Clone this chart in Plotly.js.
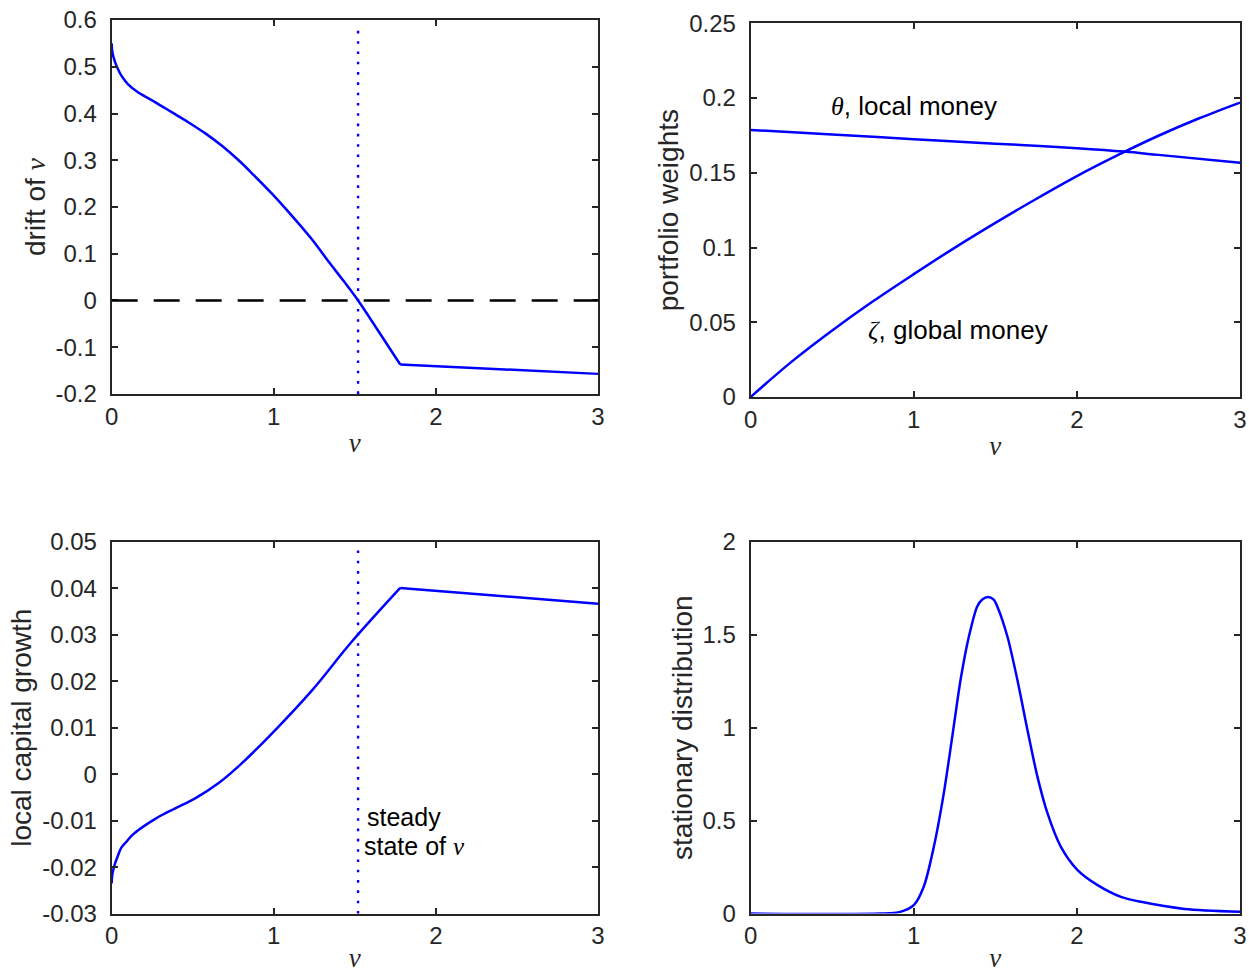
<!DOCTYPE html>
<html>
<head>
<meta charset="utf-8">
<script src="https://cdn.plot.ly/plotly-3.0.1.min.js"></script>
<style>html,body{margin:0;padding:0;background:#fff;}#chart{width:1249px;height:973px;}</style>
</head>
<body>
<div id="chart"></div>
<script>
// ---- data ----
const steadyState = 1.52;
const kinkX = 1.78;

const driftX = [0, 0.005, 0.02, 0.035, 0.06, 0.1, 0.16, 0.27, 0.37, 0.47, 0.58, 0.68, 0.78, 0.88, 0.99, 1.1, 1.23, 1.345, 1.43, 1.52, 1.65, 1.78, 2.27, 3.0];
const driftY = [0.55, 0.53, 0.511, 0.498, 0.481, 0.463, 0.446, 0.424, 0.403, 0.382, 0.357, 0.331, 0.301, 0.267, 0.228, 0.186, 0.133, 0.08, 0.042, 0.0, -0.068, -0.137, -0.145, -0.157];

const thetaX = [0, 0.5, 1, 1.5, 1.8, 2, 2.29, 2.5, 3];
const thetaY = [0.1787, 0.1756, 0.1725, 0.1695, 0.1678, 0.1665, 0.1642, 0.1620, 0.1567];

const zetaX = [0, 0.25, 0.5, 0.75, 1, 1.25, 1.5, 1.75, 2, 2.25, 2.5, 2.75, 3];
const zetaY = [0, 0.0235, 0.0445, 0.064, 0.0822, 0.0998, 0.1165, 0.1325, 0.1478, 0.1618, 0.1748, 0.1865, 0.197];

const growthX = [0, 0.005, 0.022, 0.035, 0.058, 0.09, 0.13, 0.274, 0.395, 0.515, 0.66, 0.804, 1.009, 1.237, 1.478, 1.78, 3.0];
const growthY = [-0.0235, -0.0214, -0.0191, -0.0179, -0.0159, -0.0146, -0.013, -0.0095, -0.0073, -0.0052, -0.0019, 0.0024, 0.0095, 0.0181, 0.0284, 0.0401, 0.0367];

const distX = [0, 0.795, 0.918, 1.0, 1.061, 1.123, 1.184, 1.236, 1.287, 1.338, 1.389, 1.42, 1.455, 1.49, 1.512, 1.574, 1.635, 1.697, 1.758, 1.82, 1.902, 2.004, 2.127, 2.27, 2.393, 2.66, 3.0];
const distY = [0, 0, 0.009, 0.045, 0.144, 0.359, 0.647, 0.952, 1.258, 1.491, 1.653, 1.69, 1.704, 1.69, 1.653, 1.491, 1.258, 0.988, 0.737, 0.539, 0.359, 0.234, 0.153, 0.090, 0.063, 0.025, 0.01];

// tick labels
const xTickVals = [0, 1, 2, 3];
const xTickText = ['0', '1', '2', '3'];
const driftTickVals = [-0.2, -0.1, 0, 0.1, 0.2, 0.3, 0.4, 0.5, 0.6];
const driftTickText = ['-0.2', '-0.1', '0', '0.1', '0.2', '0.3', '0.4', '0.5', '0.6'];
const weightTickVals = [0, 0.05, 0.1, 0.15, 0.2, 0.25];
const weightTickText = ['0', '0.05', '0.1', '0.15', '0.2', '0.25'];
const growthTickVals = [-0.03, -0.02, -0.01, 0, 0.01, 0.02, 0.03, 0.04, 0.05];
const growthTickText = ['-0.03', '-0.02', '-0.01', '0', '0.01', '0.02', '0.03', '0.04', '0.05'];
const distTickVals = [0, 0.5, 1, 1.5, 2];
const distTickText = ['0', '0.5', '1', '1.5', '2'];

// ---- styling ----
const BLUE = '#0000ff';
const AX = '#262626';
const SANS = 'Liberation Sans, Arial, Helvetica, sans-serif';
const SERIF = 'Liberation Serif';
const nu = '<i style="font-family:' + SERIF + '">ν</i>';

function xax(domain, anchor) {
  return {
    domain: domain, anchor: anchor, range: [0, 3],
    tickvals: xTickVals, ticktext: xTickText,
    ticks: 'inside', ticklen: 6, tickwidth: 2, tickcolor: AX,
    showline: true, linecolor: AX, linewidth: 2, mirror: 'ticks',
    showgrid: false, zeroline: false,
    tickfont: {family: SANS, size: 24, color: AX},
    ticklabelstandoff: 0,
    title: {text: nu, font: {family: SERIF, size: 27, color: AX}, standoff: 4}
  };
}
function yax(domain, anchor, range, tv, tt, title) {
  return {
    domain: domain, anchor: anchor, range: range,
    tickvals: tv, ticktext: tt,
    ticks: 'inside', ticklen: 6, tickwidth: 2, tickcolor: AX,
    showline: true, linecolor: AX, linewidth: 2, mirror: 'ticks',
    showgrid: false, zeroline: false,
    tickfont: {family: SANS, size: 24, color: AX},
    ticklabelstandoff: 8,
    title: {text: title, font: {family: SANS, size: 28, color: AX}, standoff: 2}
  };
}

// split curves at the kink so the smooth part can be splined
function upTo(xs, ys, lim) { const i = xs.indexOf(lim); return [xs.slice(0, i + 1), ys.slice(0, i + 1)]; }
function from(xs, ys, lim) { const i = xs.indexOf(lim); return [xs.slice(i), ys.slice(i)]; }
const [dA_x, dA_y] = upTo(driftX, driftY, kinkX);
const [dB_x, dB_y] = from(driftX, driftY, kinkX);
const [gA_x, gA_y] = upTo(growthX, growthY, kinkX);
const [gB_x, gB_y] = from(growthX, growthY, kinkX);

const xL = [0.0894, 0.4788];
const xR = [0.601, 0.9928];
const LW = 2.5;

const traces = [
  {x: dA_x, y: dA_y, xaxis: 'x', yaxis: 'y', type: 'scatter', mode: 'lines', line: {color: BLUE, width: LW, shape: 'spline', smoothing: 1}},
  {x: dB_x, y: dB_y, xaxis: 'x', yaxis: 'y', type: 'scatter', mode: 'lines', line: {color: BLUE, width: LW}},
  {x: thetaX, y: thetaY, xaxis: 'x2', yaxis: 'y2', type: 'scatter', mode: 'lines', line: {color: BLUE, width: LW, shape: 'spline'}},
  {x: zetaX, y: zetaY, xaxis: 'x2', yaxis: 'y2', type: 'scatter', mode: 'lines', line: {color: BLUE, width: LW, shape: 'spline'}},
  {x: gA_x, y: gA_y, xaxis: 'x3', yaxis: 'y3', type: 'scatter', mode: 'lines', line: {color: BLUE, width: LW, shape: 'spline', smoothing: 1}},
  {x: gB_x, y: gB_y, xaxis: 'x3', yaxis: 'y3', type: 'scatter', mode: 'lines', line: {color: BLUE, width: LW}},
  {x: distX, y: distY, xaxis: 'x4', yaxis: 'y4', type: 'scatter', mode: 'lines', line: {color: BLUE, width: LW, shape: 'spline', smoothing: 0.8}}
];

const layout = {
  width: 1249, height: 973,
  margin: {l: 0, r: 0, t: 0, b: 0},
  paper_bgcolor: '#ffffff', plot_bgcolor: '#ffffff',
  showlegend: false,
  font: {family: SANS, color: AX},
  xaxis: xax(xL, 'y'),
  yaxis: yax([0.5951, 0.9794], 'x', [-0.2, 0.6], driftTickVals, driftTickText, 'drift of ' + nu),
  xaxis2: xax(xR, 'y2'),
  yaxis2: yax([0.592, 0.976], 'x2', [0, 0.25], weightTickVals, weightTickText, 'portfolio weights'),
  xaxis3: xax(xL, 'y3'),
  yaxis3: yax([0.0611, 0.443], 'x3', [-0.03, 0.05], growthTickVals, growthTickText, 'local capital growth'),
  xaxis4: xax(xR, 'y4'),
  yaxis4: yax([0.0611, 0.443], 'x4', [0, 2], distTickVals, distTickText, 'stationary distribution'),
  shapes: [
    {type: 'line', xref: 'x domain', yref: 'y', x0: 0, x1: 1, y0: 0, y1: 0, line: {color: '#000000', width: 2.4, dash: '26px,16px'}},
    {type: 'line', xref: 'x', yref: 'y domain', x0: steadyState, x1: steadyState, y0: 0, y1: 0.98, line: {color: BLUE, width: 2.4, dash: '2.6px,7.7px'}},
    {type: 'line', xref: 'x3', yref: 'y3 domain', x0: steadyState, x1: steadyState, y0: 0, y1: 0.98, line: {color: BLUE, width: 2.4, dash: '2.6px,7.7px'}}
  ],
  annotations: [
    {xref: 'x2', yref: 'y2', x: 0.48, y: 0.1947, xanchor: 'left', yanchor: 'middle', showarrow: false,
     text: '<i style="font-family:' + SERIF + '">θ</i>, local money', font: {family: SANS, size: 26, color: '#000000'}},
    {xref: 'x2', yref: 'y2', x: 0.705, y: 0.0448, xanchor: 'left', yanchor: 'middle', showarrow: false,
     text: '<i style="font-family:' + SERIF + '">ζ</i>, global money', font: {family: SANS, size: 26, color: '#000000'}},
    {xref: 'x3', yref: 'y3', x: 1.565, y: -0.0092, xanchor: 'left', yanchor: 'middle', align: 'left', showarrow: false,
     text: 'steady', font: {family: SANS, size: 25, color: '#000000'}},
    {xref: 'x3', yref: 'y3', x: 1.545, y: -0.0154, xanchor: 'left', yanchor: 'middle', align: 'left', showarrow: false,
     text: 'state of ' + nu, font: {family: SANS, size: 25, color: '#000000'}}
  ]
};

Plotly.newPlot('chart', traces, layout, {staticPlot: true, displayModeBar: false});
</script>
</body>
</html>
